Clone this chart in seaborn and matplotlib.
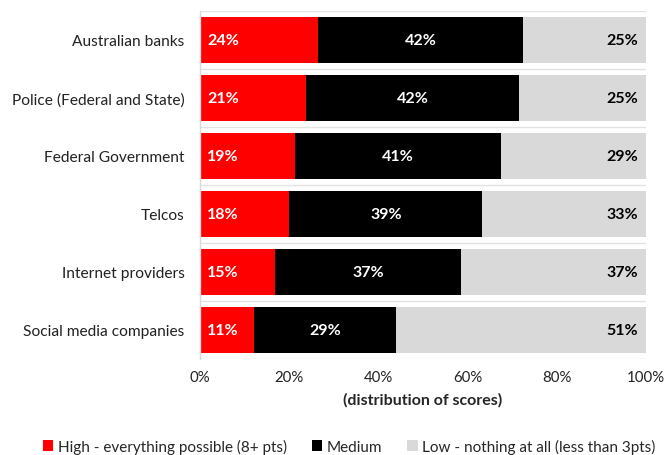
import matplotlib
matplotlib.use("Agg")
import matplotlib.pyplot as plt
from matplotlib.patches import Patch
import seaborn as sns
import pandas as pd
import numpy as np

categories = ["Australian banks", "Police (Federal and State)", "Federal Government",
              "Telcos", "Internet providers", "Social media companies"]
high = [24, 21, 19, 18, 15, 11]
medium = [42, 42, 41, 39, 37, 29]
low = [25, 25, 29, 33, 37, 51]
series_names = ["High - everything possible (8+ pts)", "Medium",
                "Low - nothing at all (less than 3pts)"]
colors = ["#ff0000", "#000000", "#d9d9d9"]
xticks = [0, 20, 40, 60, 80, 100]

sns.set_theme(style="white")
plt.rcParams["font.family"] = ["Lato", "DejaVu Sans"]

df = pd.DataFrame({"category": categories, "high": high, "medium": medium, "low": low})
total = df[["high", "medium", "low"]].sum(axis=1)
# shares normalised so each row spans the full 0-100% range
df["s_high"] = df["high"] / total * 100
df["s_med"] = df["medium"] / total * 100
df["s_low"] = df["low"] / total * 100
df["c_high"] = df["s_high"]
df["c_med"] = df["s_high"] + df["s_med"]
df["c_low"] = df["c_med"] + df["s_low"]

fig = plt.figure(figsize=(6.65, 4.56), dpi=100)
ax = fig.add_axes([200 / 665, 1 - 360 / 456, 446 / 665, 348 / 456])

for col, color in [("c_low", colors[2]), ("c_med", colors[1]), ("c_high", colors[0])]:
    sns.barplot(data=df, y="category", x=col, orient="h", color=color,
                saturation=1, width=0.78, ax=ax, linewidth=0, errorbar=None)

ax.set_xlim(0, 100)
ax.set_ylim(5.5, -0.5)
ax.set_xticks(xticks)
ax.set_xticklabels([f"{t}%" for t in xticks], fontsize=10.8, color="#222222")
ax.tick_params(axis="y", labelsize=11.2, labelcolor="#222222", length=0, pad=11)
ax.tick_params(axis="x", length=0, pad=8)
ax.set_ylabel("")
ax.set_xlabel("(distribution of scores)", fontsize=11.5, fontweight="bold", labelpad=6)

for s in ["top", "right", "bottom"]:
    ax.spines[s].set_visible(False)
ax.spines["left"].set_color("#d9d9d9")
ax.spines["left"].set_linewidth(1)

for b in np.arange(-0.5, 6.0, 1.0):
    ax.axhline(b, color="#e3e3e3", linewidth=1, zorder=0)

lab = dict(fontsize=11.5, fontweight="bold", va="center")
for i, row in df.iterrows():
    ax.text(1.6, i, f"{row['high']}%", ha="left", color="white", **lab)
    ax.text(row["c_high"] + row["s_med"] / 2, i, f"{row['medium']}%", ha="center",
            color="white", **lab)
    ax.text(98.2, i, f"{row['low']}%", ha="right", color="black", **lab)

handles = [Patch(facecolor=c, edgecolor="none") for c in colors]
fig.legend(handles, series_names, loc="center", bbox_to_anchor=(0.525, 1 - 447 / 456),
           ncol=3, frameon=False, fontsize=11, handlelength=0.7, handleheight=0.7,
           handletextpad=0.3, columnspacing=1.6)

fig.savefig("out.png", dpi=100)
